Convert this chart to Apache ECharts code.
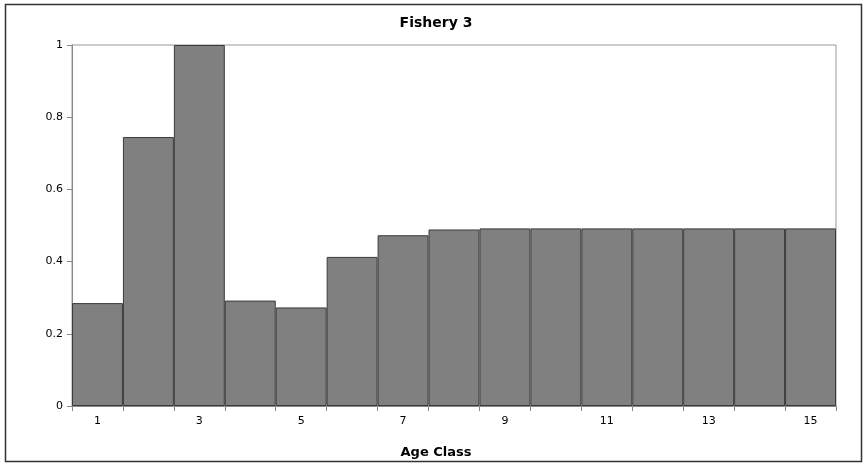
<!DOCTYPE html>
<html>
<head>
<meta charset="utf-8">
<script src="https://cdn.jsdelivr.net/npm/echarts@6/dist/echarts.min.js"></script>
<style>
  html, body { margin: 0; padding: 0; background: #fff; }
  #chart { width: 863px; height: 464px; }
</style>
</head>
<body>
<div id="chart"></div>
<script>
// age classes and selectivity values
var ageClasses = ['1','2','3','4','5','6','7','8','9','10','11','12','13','14','15'];
var selectivity = [0.285, 0.745, 1.0, 0.292, 0.273, 0.413, 0.473, 0.489, 0.492, 0.492, 0.492, 0.492, 0.492, 0.492, 0.492];

var myChart = echarts.init(document.getElementById('chart'));
var fontFam = '"DejaVu Sans", Verdana, sans-serif';

var option = {
    animation: false,
    backgroundColor: '#fff',
    title: {
        text: 'Fishery 3',
        left: 431,
        textAlign: 'center',
        top: 11,
        textStyle: { fontFamily: fontFam, fontSize: 14, fontWeight: 'bold', color: '#000' }
    },
    graphic: [{
        type: 'rect',
        shape: { x: 5.5, y: 4.5, width: 856, height: 457 },
        style: { fill: 'none', stroke: '#333', lineWidth: 1.5 },
        silent: true
    }],
    grid: {
        left: 72,
        right: 27,
        top: 45,
        bottom: 54,
        show: true,
        borderColor: '#999',
        borderWidth: 1
    },
    xAxis: {
        type: 'category',
        data: ageClasses,
        name: 'Age Class',
        nameLocation: 'middle',
        nameGap: 40,
        nameTextStyle: { fontFamily: fontFam, fontSize: 13, fontWeight: 'bold', color: '#000', padding: [0, 36, 0, 0] },
        axisLine: { lineStyle: { color: '#888' } },
        axisTick: { show: true, length: 5, interval: 0, lineStyle: { color: '#888' } },
        axisLabel: { interval: 1, margin: 10, fontFamily: fontFam, fontSize: 11, color: '#000' },
        splitLine: { show: false }
    },
    yAxis: {
        type: 'value',
        min: 0,
        max: 1,
        interval: 0.2,
        axisLine: { show: true, lineStyle: { color: '#888' } },
        axisTick: { show: true, length: 5, lineStyle: { color: '#888' } },
        axisLabel: { margin: 9, fontFamily: fontFam, fontSize: 11, color: '#000' },
        splitLine: { show: false }
    },
    series: [{
        name: 'Fishery 3',
        type: 'bar',
        data: selectivity,
        barCategoryGap: '0%',
        itemStyle: { color: '#808080', borderColor: '#3a3a3a', borderWidth: 1 }
    }]
};

myChart.setOption(option, true);
</script>
</body>
</html>
